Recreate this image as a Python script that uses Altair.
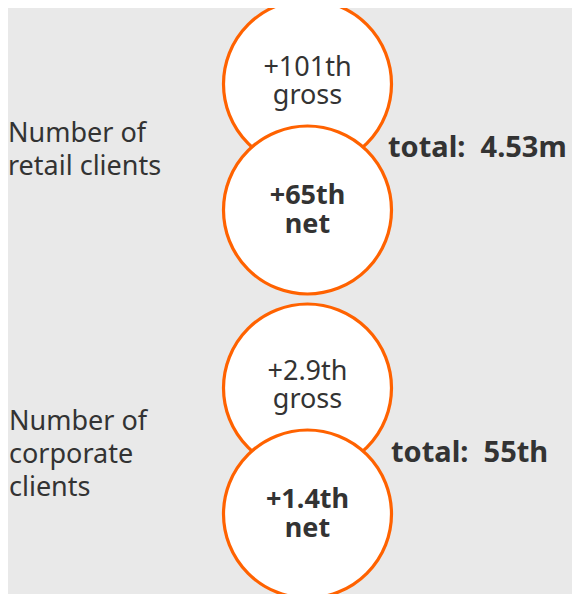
import altair as alt
import pandas as pd

# ---- data ----
groups = ["retail", "corporate"]
left_labels = [["Number of", "retail clients"], ["Number of", "corporate", "clients"]]
gross_values = ["+101th", "+2.9th"]
net_values = ["+65th", "+1.4th"]
totals = ["4.53m", "55th"]

# ---- layout (pixel-space scales; page margin is 8px) ----
W, H = 564, 586
gross_cy = [84, 388]
net_offset = 126
circle_cx = 307.5
label_x = [8, 9]
label_base = [142, 430]
label_step = 33
total_x = [388, 391]
total_base = [157, 462]

circles, texts_reg, texts_bold, labels, tots = [], [], [], [], []
for i, g in enumerate(groups):
    gy = gross_cy[i]
    ny = gy + net_offset
    circles.append({"x": circle_cx, "y": gy, "order": 2 * i})
    circles.append({"x": circle_cx, "y": ny, "order": 2 * i + 1})
    texts_reg.append({"x": circle_cx, "y": gy - 8, "t": gross_values[i]})
    texts_reg.append({"x": circle_cx, "y": gy + 20, "t": "gross"})
    texts_bold.append({"x": circle_cx, "y": ny - 6, "t": net_values[i]})
    texts_bold.append({"x": circle_cx, "y": ny + 23, "t": "net"})
    for j, line in enumerate(left_labels[i]):
        labels.append({"x": label_x[i], "y": label_base[i] + j * label_step, "t": line})
    tots.append({"x": total_x[i], "y": total_base[i], "t": "total:\u00a0 " + totals[i]})

xs = alt.Scale(domain=[8, 8 + W], range=[0, W], nice=False, zero=False)
ys = alt.Scale(domain=[8, 8 + H], range=[0, H], nice=False, zero=False)
X = alt.X("x:Q", scale=xs, axis=None)
Y = alt.Y("y:Q", scale=ys, axis=None)

FONT = "Noto Sans"
ORANGE = "#FF6200"
DARK = "#333333"

circ = alt.Chart(pd.DataFrame(circles)).mark_point(
    shape="circle", size=28224, filled=False, fill="white", fillOpacity=1,
    stroke=ORANGE, strokeWidth=3.2, opacity=1
).encode(x=X, y=Y, order=alt.Order("order:Q"))

treg = alt.Chart(pd.DataFrame(texts_reg)).mark_text(
    font=FONT, fontSize=27, color=DARK, align="center", baseline="alphabetic"
).encode(x=X, y=Y, text="t:N")

tbold = alt.Chart(pd.DataFrame(texts_bold)).mark_text(
    font=FONT, fontSize=27, fontWeight="bold", color=DARK, align="center", baseline="alphabetic"
).encode(x=X, y=Y, text="t:N")

lab = alt.Chart(pd.DataFrame(labels)).mark_text(
    font=FONT, fontSize=27, color=DARK, align="left", baseline="alphabetic"
).encode(x=X, y=Y, text="t:N")

tot = alt.Chart(pd.DataFrame(tots)).mark_text(
    font=FONT, fontSize=29, fontWeight="bold", color=DARK, align="left", baseline="alphabetic"
).encode(x=X, y=Y, text="t:N")

chart = alt.layer(circ, treg, tbold, lab, tot).properties(
    width=W, height=H, autosize=alt.AutoSizeParams(type="none"), padding=0,
    background="#E9E9E9"
).configure_view(stroke=None, clip=False)

chart.save("out.html", embed_options={"renderer": "svg", "actions": False})
